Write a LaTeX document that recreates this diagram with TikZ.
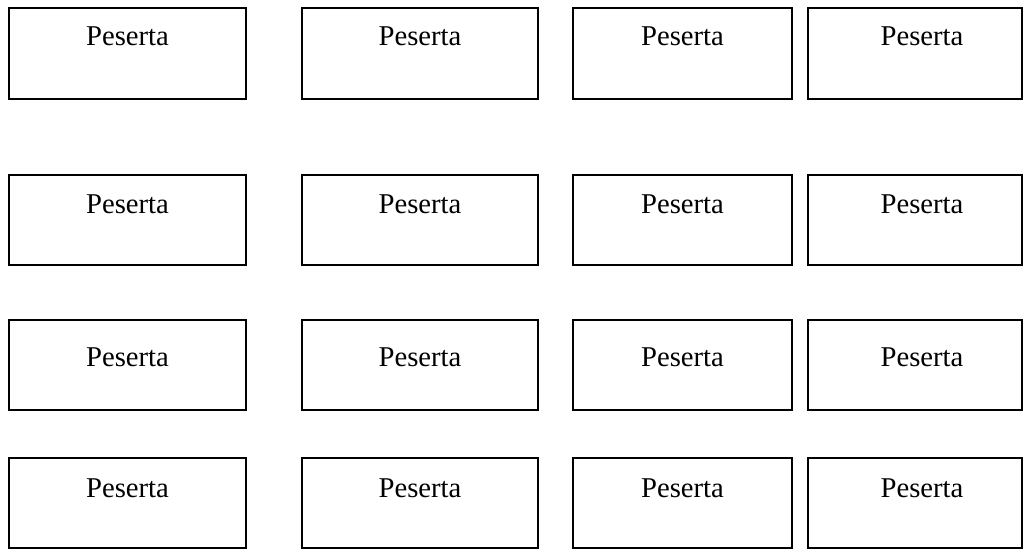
\documentclass[tikz,border=0pt]{standalone}
\usepackage{fontspec}
\setmainfont{Liberation Serif}
\usetikzlibrary{fit}
\begin{document}
\begin{tikzpicture}[x=0.75pt,y=-0.75pt,
  box/.style={draw=black, line width=1.2pt, inner sep=0pt, rectangle},
  lbl/.style={anchor=base, inner sep=0pt, font=\fontsize{21.5}{24}\selectfont}]
\useasboundingbox (0,0) rectangle (1024,558);
\clip (0,0) rectangle (1024,558);
\foreach \r/\top/\bot/\base in {1/8/99/45, 2/175/265/213, 3/320/410/366, 4/458/548/497}{
  \foreach \c/\l/\rr/\mid in {1/9/246/127.5, 2/302/538/420, 3/573/792/682.5, 4/808/1022/922}{
    \node[box, fit={(\l,\top) (\rr,\bot)}] (b\r\c) {};
    \node[lbl] (t\r\c) at (\mid,\base) {Peserta};
  }
}
\end{tikzpicture}
\end{document}
